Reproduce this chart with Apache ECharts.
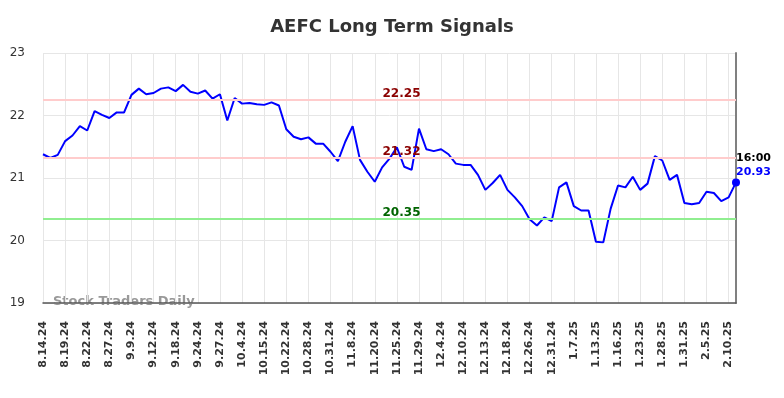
<!DOCTYPE html>
<html>
<head>
<meta charset="utf-8">
<script src="https://cdn.jsdelivr.net/npm/echarts@6/dist/echarts.min.js"></script>
<style>
    html, body { margin: 0; padding: 0; background: #fff; }
    #chart { width: 784px; height: 398px; }
</style>
</head>
<body>
<div id="chart"></div>
<script>
var title = "AEFC Long Term Signals";

var dates = [
    "8.14.24", "8.15.24", "8.16.24", "8.19.24", "8.20.24", "8.21.24", "8.22.24", "8.23.24", "8.26.24",
    "8.27.24", "8.28.24", "9.4.24", "9.9.24", "9.10.24", "9.11.24", "9.12.24", "9.13.24", "9.16.24",
    "9.18.24", "9.19.24", "9.20.24", "9.24.24", "9.25.24", "9.26.24", "9.27.24", "9.30.24", "10.2.24",
    "10.4.24", "10.8.24", "10.11.24", "10.15.24", "10.16.24", "10.18.24", "10.22.24", "10.23.24", "10.25.24",
    "10.28.24", "10.29.24", "10.30.24", "10.31.24", "11.4.24", "11.6.24", "11.8.24", "11.12.24", "11.15.24",
    "11.20.24", "11.21.24", "11.22.24", "11.25.24", "11.26.24", "11.27.24", "11.29.24", "12.2.24", "12.3.24",
    "12.4.24", "12.5.24", "12.9.24", "12.10.24", "12.11.24", "12.12.24", "12.13.24", "12.16.24", "12.17.24",
    "12.18.24", "12.19.24", "12.23.24", "12.26.24", "12.27.24", "12.30.24", "12.31.24", "1.2.25", "1.6.25",
    "1.7.25", "1.8.25", "1.10.25", "1.13.25", "1.14.25", "1.15.25", "1.16.25", "1.17.25", "1.21.25",
    "1.23.25", "1.24.25", "1.27.25", "1.28.25", "1.29.25", "1.30.25", "1.31.25", "2.3.25", "2.4.25",
    "2.5.25", "2.6.25", "2.7.25", "2.10.25", "2.11.25"
];

var prices = [
    21.38, 21.32, 21.37, 21.59, 21.68, 21.83, 21.76, 22.07, 22.01,
    21.96, 22.05, 22.05, 22.33, 22.43, 22.34, 22.36, 22.43, 22.45,
    22.39, 22.49, 22.38, 22.35, 22.40, 22.27, 22.34, 21.92, 22.28,
    22.19, 22.20, 22.18, 22.17, 22.21, 22.16, 21.78, 21.66, 21.62,
    21.65, 21.55, 21.55, 21.42, 21.27, 21.58, 21.83, 21.29, 21.10,
    20.94, 21.17, 21.31, 21.49, 21.18, 21.13, 21.79, 21.46, 21.43,
    21.46, 21.38, 21.23, 21.21, 21.21, 21.05, 20.81, 20.92, 21.05,
    20.81, 20.69, 20.55, 20.34, 20.24, 20.37, 20.31, 20.85, 20.93,
    20.55, 20.48, 20.48, 19.98, 19.97, 20.51, 20.88, 20.85, 21.02,
    20.81, 20.91, 21.35, 21.28, 20.97, 21.05, 20.60, 20.58, 20.60,
    20.78, 20.76, 20.63, 20.69, 20.93
];

var resistance = [22.25, 21.32];
var support = [20.35];
var yTicks = [19, 20, 21, 22, 23];
var lastTime = "16:00";

var lastIdx = prices.length - 1;
var lastVal = prices[lastIdx];

var levelLines = [];
resistance.forEach(function (v) {
    levelLines.push({ yAxis: v, lineStyle: { color: "#ffcccc" }, label: { color: "#8b0000" } });
});
support.forEach(function (v) {
    levelLines.push({ yAxis: v, lineStyle: { color: "#90ee90" }, label: { color: "#006400" } });
});

var chart = echarts.init(document.getElementById("chart"));
var option = {
    animation: false,
    title: {
        text: title,
        left: "center",
        top: 13,
        textStyle: { fontFamily: "DejaVu Sans", fontSize: 18, fontWeight: "bold", color: "#333" }
    },
    grid: { left: 43, right: 48, top: 53, bottom: 95 },
    graphic: [{
        type: "text",
        left: 53,
        top: 295,
        style: {
            text: "Stock Traders Daily",
            font: "bold 13px DejaVu Sans",
            fill: "#999"
        }
    }],
    xAxis: {
        type: "category",
        data: dates,
        boundaryGap: false,
        axisLine: { lineStyle: { color: "#555", width: 1.5 } },
        axisTick: { show: false },
        axisLabel: {
            interval: 2,
            rotate: 90,
            margin: 18,
            fontFamily: "DejaVu Sans",
            fontSize: 11,
            fontWeight: "bold",
            color: "#333"
        },
        splitLine: { show: true, interval: 2, lineStyle: { color: "#e6e6e6" } }
    },
    yAxis: [{
        type: "value",
        min: yTicks[0],
        max: yTicks[yTicks.length - 1],
        interval: 1,
        axisLine: { show: false },
        axisTick: { show: false },
        axisLabel: { margin: 18, fontFamily: "DejaVu Sans", fontSize: 12, color: "#333" },
        splitLine: { lineStyle: { color: "#e6e6e6" } }
    }, {
        type: "value",
        position: "right",
        min: yTicks[0],
        max: yTicks[yTicks.length - 1],
        interval: 1,
        axisLine: { show: true, lineStyle: { color: "#808080", width: 2 } },
        axisTick: { show: false },
        axisLabel: { show: false },
        splitLine: { show: false }
    }],
    series: [{
        type: "line",
        data: prices,
        symbol: "none",
        lineStyle: { color: "#0000ff", width: 2 },
        z: 3,
        markLine: {
            silent: true,
            symbol: "none",
            lineStyle: { type: "solid", width: 2 },
            label: {
                position: "insideMiddleTop",
                offset: [12, 5],
                formatter: function (p) { return p.value.toFixed(2); },
                fontFamily: "DejaVu Sans",
                fontSize: 12,
                fontWeight: "bold"
            },
            data: levelLines
        }
    }, {
        type: "scatter",
        data: [[lastIdx, lastVal]],
        symbol: "circle",
        symbolSize: 8,
        itemStyle: { color: "#0000ff", opacity: 1 },
        z: 4,
        label: {
            show: true,
            position: "right",
            offset: [-9, -17],
            formatter: function (p) { return "{t|" + lastTime + "}\n{v|" + p.value[1].toFixed(2) + "}"; },
            rich: {
                t: { fontFamily: "DejaVu Sans", fontSize: 11, fontWeight: "bold", color: "#000", lineHeight: 14 },
                v: { fontFamily: "DejaVu Sans", fontSize: 11, fontWeight: "bold", color: "#0000ff", lineHeight: 14 }
            }
        }
    }]
};
chart.setOption(option);
</script>
</body>
</html>
